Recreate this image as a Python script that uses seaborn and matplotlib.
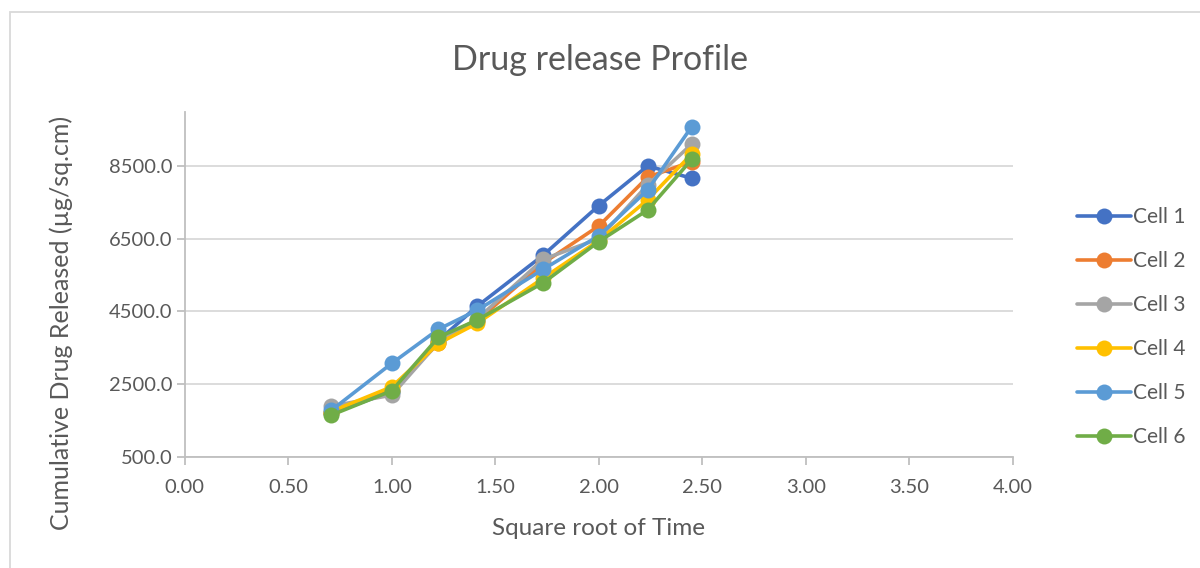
import pandas as pd
import matplotlib.pyplot as plt
import seaborn as sns
from matplotlib.patches import Rectangle

# Square root of sampling time (h^0.5)
sqrt_time = [0.707, 1.000, 1.225, 1.414, 1.732, 2.000, 2.236, 2.449]

# Cumulative drug released (ug/sq.cm) per Franz cell
cell_1 = [1700, 2300, 3700, 4650, 6050, 7410, 8500, 8160]
cell_2 = [1700, 2350, 3620, 4250, 5830, 6850, 8190, 8620]
cell_3 = [1900, 2200, 3650, 4300, 5935, 6500, 7980, 9100]
cell_4 = [1750, 2430, 3620, 4180, 5420, 6450, 7570, 8830]
cell_5 = [1780, 3075, 4010, 4540, 5660, 6580, 7840, 9580]
cell_6 = [1650, 2320, 3790, 4270, 5290, 6420, 7290, 8680]

cell_names = ['Cell 1', 'Cell 2', 'Cell 3', 'Cell 4', 'Cell 5', 'Cell 6']
colors = ['#4472C4', '#ED7D31', '#A5A5A5', '#FFC000', '#5B9BD5', '#70AD47']

x_ticks = [0.0, 0.5, 1.0, 1.5, 2.0, 2.5, 3.0, 3.5, 4.0]
y_ticks = [500, 2500, 4500, 6500, 8500]


def build_frame():
    # long format table for seaborn
    rows = []
    for name, vals in zip(cell_names, [cell_1, cell_2, cell_3, cell_4, cell_5, cell_6]):
        for x, y in zip(sqrt_time, vals):
            rows.append({'Time': x, 'Released': y, 'Cell': name})
    return pd.DataFrame(rows)


def main():
    df = build_frame()

    sns.set_theme(style='white')
    plt.rcParams['font.family'] = ['Lato', 'DejaVu Sans']
    text_color = '#595959'
    grid_color = '#D9D9D9'
    axis_color = '#BFBFBF'

    fig = plt.figure(figsize=(12, 5.68), dpi=100)
    ax = fig.add_axes([0.154, 0.1954, 0.69, 0.6076])

    sns.lineplot(data=df, x='Time', y='Released', hue='Cell', hue_order=cell_names,
                 palette=colors, marker='o', markersize=11.5, markeredgewidth=0,
                 linewidth=2.6, sort=False, estimator=None, ax=ax)

    ax.set_xlim(0, 4)
    ax.set_ylim(500, 9985)
    ax.set_xticks(x_ticks)
    ax.set_xticklabels([f'{t:.2f}' for t in x_ticks])
    ax.set_yticks(y_ticks)
    ax.set_yticklabels([f'{t:.1f}' for t in y_ticks])
    ax.grid(axis='y', color=grid_color, linewidth=1.3)
    ax.set_axisbelow(True)

    for side in ['top', 'right']:
        ax.spines[side].set_visible(False)
    for side in ['left', 'bottom']:
        ax.spines[side].set_color(axis_color)
        ax.spines[side].set_linewidth(1.3)

    ax.tick_params(axis='both', colors=axis_color, length=6, width=1.3,
                   labelcolor=text_color, labelsize=14.5, pad=6)
    ax.tick_params(axis='x', pad=10)
    ax.tick_params(axis='y', pad=3)
    ax.yaxis.set_ticks_position('left')
    ax.xaxis.set_ticks_position('bottom')

    ax.set_xlabel('Square root of Time', fontsize=17.5, color=text_color, labelpad=16)
    ax.set_ylabel('Cumulative Drug Released (µg/sq.cm)', fontsize=18, color=text_color)
    ax.yaxis.set_label_coords(-0.135, 0.388)
    fig.suptitle('Drug release Profile', fontsize=24.5, color=text_color, y=0.922)

    leg = ax.legend(loc='center left', bbox_to_anchor=(1.065, 0.376), frameon=False,
                    fontsize=15, labelspacing=1.15, handlelength=2.6, handletextpad=0.1,
                    borderpad=0)
    for txt in leg.get_texts():
        txt.set_color(text_color)

    # chart area border
    fig.patches.append(Rectangle((10 / 1200, -0.1), 1.2, 1.1 - 12 / 568,
                                 transform=fig.transFigure, fill=False,
                                 edgecolor='#D9D9D9', linewidth=1.3))

    fig.savefig('out.png', dpi=100)


if __name__ == '__main__':
    main()
